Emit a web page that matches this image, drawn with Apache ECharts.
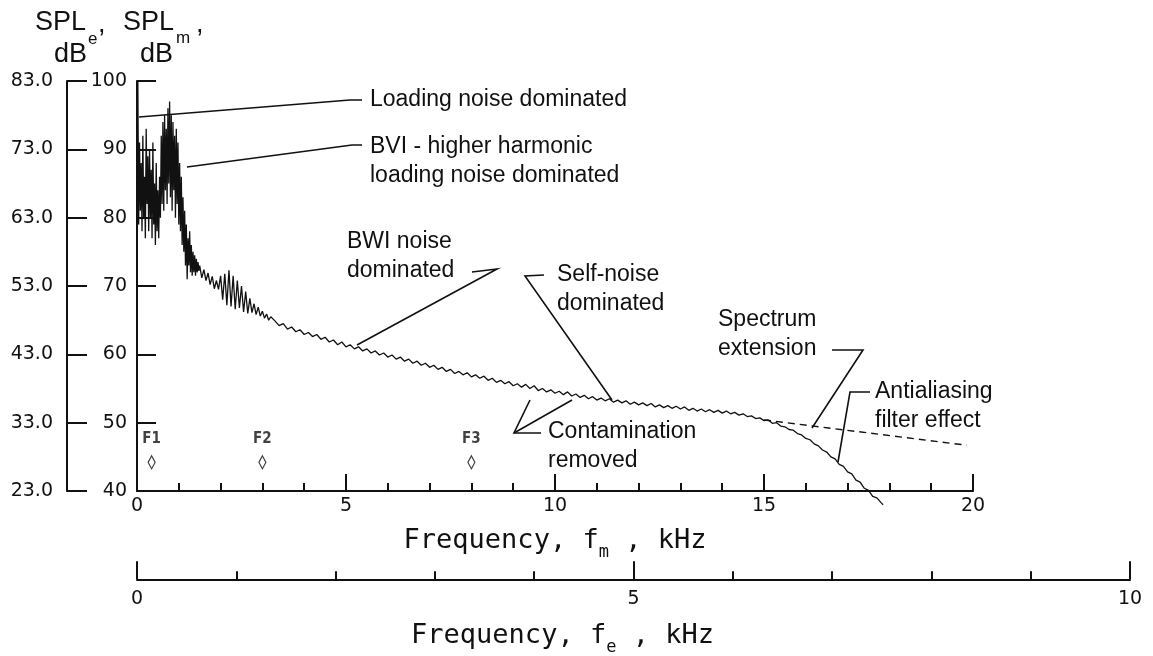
<!DOCTYPE html>
<html>
<head>
<meta charset="utf-8">
<title>SPL spectrum</title>
<script src="https://cdn.jsdelivr.net/npm/echarts@6/dist/echarts.min.js"></script>
<style>
  html, body { margin: 0; padding: 0; background: #fff; }
  #chart { width: 1153px; height: 656px; }
</style>
</head>
<body>
<div id="chart"></div>
<script>
// SPL_m (dB) against model frequency f_m (kHz)
const lowBand = [
  [0, 61], [0.02, 100], [0.04, 79], [0.06, 91], [0.08, 81], [0.1, 88],
  [0.12, 78], [0.14, 92], [0.16, 80], [0.18, 86], [0.2, 77], [0.22, 93],
  [0.24, 82], [0.26, 89], [0.28, 78], [0.3, 90], [0.32, 80], [0.34, 87],
  [0.36, 77], [0.38, 91], [0.4, 79], [0.42, 85], [0.44, 76], [0.46, 88],
  [0.48, 78], [0.5, 84], [0.52, 77], [0.54, 86], [0.56, 80], [0.58, 92],
  [0.6, 82], [0.62, 94], [0.64, 81], [0.66, 95], [0.68, 84], [0.7, 93],
  [0.72, 82], [0.74, 96], [0.76, 85], [0.78, 97], [0.8, 83], [0.82, 95],
  [0.84, 81], [0.86, 94], [0.88, 84], [0.9, 92], [0.92, 80], [0.94, 93],
  [0.96, 82], [0.98, 91], [1.0, 79], [1.02, 88], [1.04, 78], [1.06, 86],
  [1.08, 76], [1.1, 83], [1.12, 75], [1.14, 81], [1.16, 73], [1.18, 79],
  [1.2, 71], [1.22, 77], [1.24, 73], [1.26, 78], [1.28, 72], [1.3, 76],
  [1.32, 71.5], [1.34, 75], [1.36, 72], [1.38, 74.5], [1.4, 71.5], [1.42, 74],
  [1.44, 72], [1.46, 73.5], [1.48, 72.2]
];
const midBand = [
  [1.5, 73.0], [1.55, 71.2], [1.6, 72.4], [1.65, 70.8], [1.7, 71.9], [1.75, 70.2],
  [1.8, 71.4], [1.85, 69.6], [1.9, 70.8], [1.95, 69.5], [2.0, 71.5], [2.05, 68.0],
  [2.1, 71.8], [2.15, 67.2], [2.2, 72.3], [2.25, 67.0], [2.3, 71.5], [2.35, 66.6],
  [2.4, 70.8], [2.45, 66.8], [2.5, 70.0], [2.55, 66.2], [2.6, 69.2], [2.65, 66.0],
  [2.7, 68.2], [2.75, 66.1], [2.8, 67.4], [2.85, 65.8], [2.9, 66.9], [2.95, 65.6],
  [3.0, 66.3], [3.05, 65.3], [3.1, 65.9], [3.15, 65.0], [3.2, 65.5]
];
const highBand = [
  [3.3, 64.9], [3.4, 64.2], [3.5, 64.5], [3.6, 63.7], [3.7, 64.0], [3.8, 63.3],
  [3.9, 63.6], [4.0, 62.9], [4.1, 63.2], [4.2, 62.6], [4.3, 62.9], [4.4, 62.2],
  [4.5, 62.5], [4.6, 61.8], [4.7, 62.1], [4.8, 61.4], [4.9, 61.8], [5.0, 61.1],
  [5.1, 61.4], [5.2, 60.8], [5.3, 61.1], [5.4, 60.5], [5.5, 60.8], [5.6, 60.2],
  [5.7, 60.5], [5.8, 59.9], [5.9, 60.2], [6.0, 59.6], [6.1, 59.9], [6.2, 59.3],
  [6.3, 59.6], [6.4, 59.0], [6.5, 59.3], [6.6, 58.7], [6.7, 59.0], [6.8, 58.4],
  [6.9, 58.7], [7.0, 58.1], [7.1, 58.4], [7.2, 57.8], [7.3, 58.1], [7.4, 57.5],
  [7.5, 57.8], [7.6, 57.2], [7.7, 57.5], [7.8, 57.0], [7.9, 57.3], [8.0, 56.7],
  [8.1, 57.0], [8.2, 56.5], [8.3, 56.8], [8.4, 56.2], [8.5, 56.5], [8.6, 55.9],
  [8.7, 56.2], [8.8, 55.7], [8.9, 56.0], [9.0, 55.4], [9.1, 55.7], [9.2, 55.2],
  [9.3, 55.6], [9.4, 55.0], [9.5, 55.4], [9.6, 54.7], [9.7, 55.0], [9.8, 54.5],
  [9.9, 54.8], [10.0, 54.3], [10.1, 54.6], [10.2, 54.1], [10.3, 54.5], [10.4, 53.9],
  [10.5, 54.2], [10.6, 53.7], [10.7, 54.0], [10.8, 53.5], [10.9, 53.8], [11.0, 53.3],
  [11.1, 53.6], [11.2, 53.2], [11.3, 53.5], [11.4, 53.0], [11.5, 53.3], [11.6, 52.9],
  [11.7, 53.2], [11.8, 52.7], [11.9, 53.0], [12.0, 52.6], [12.1, 52.9], [12.2, 52.5],
  [12.3, 52.8], [12.4, 52.3], [12.5, 52.6], [12.6, 52.2], [12.7, 52.5], [12.8, 52.1],
  [12.9, 52.4], [13.0, 52.0], [13.1, 52.3], [13.2, 51.8], [13.3, 52.1], [13.4, 51.7],
  [13.5, 52.0], [13.6, 51.6], [13.7, 51.9], [13.8, 51.5], [13.9, 51.8], [14.0, 51.4],
  [14.1, 51.7], [14.2, 51.3], [14.3, 51.5], [14.4, 51.1], [14.5, 51.3], [14.6, 50.9],
  [14.7, 51.0], [14.8, 50.6], [14.9, 50.7], [15.0, 50.3], [15.1, 50.4], [15.2, 49.9],
  [15.3, 50.0], [15.4, 49.5], [15.5, 49.4], [15.6, 49.0], [15.7, 48.9], [15.8, 48.4],
  [15.9, 48.2], [16.0, 47.7], [16.1, 47.5], [16.2, 46.9], [16.3, 46.6], [16.4, 46.0],
  [16.5, 45.7], [16.6, 45.0], [16.7, 44.7], [16.8, 43.9], [16.9, 43.6], [17.0, 42.8],
  [17.1, 42.5], [17.2, 41.6], [17.3, 41.3], [17.4, 40.4], [17.5, 40.1], [17.6, 39.2],
  [17.7, 39.0], [17.8, 38.3], [17.85, 38.0]
];
// dashed "spectrum extension"
const extension = [[15.0, 50.4], [19.85, 46.7]];

// reference frequencies F1..F3
const markNames = ['F1', 'F2', 'F3'];
const markFreqs = [0.35, 3, 8];
const markLevel = 44.2;

// axis ranges
const fmRange = [0, 20];
const feRange = [0, 10];
const splmRange = [40, 100];
const spleRange = [23, 83];

const black = '#111';
const tickFont = 'DejaVu Sans';
const noteFont = '23px "Liberation Sans", Arial, sans-serif';

// annotation text + leader lines (pixel layout)
const notes = [
  { text: 'Loading noise dominated', x: 370, y: 100, line: [[139, 117], [350, 100], [362, 100]] },
  { text: 'BVI - higher harmonic\nloading noise dominated', x: 370, y: 147, line: [[187, 167], [352, 145], [362, 145]] },
  { text: 'BWI noise\ndominated', x: 347, y: 242, line: [[472, 272], [497, 269], [357, 345]] },
  { text: 'Self-noise\ndominated', x: 557, y: 275, line: [[544, 275], [525, 276], [612, 400]] },
  { text: 'Contamination\nremoved', x: 548, y: 432, line: [[541, 433], [514, 433], [530, 400]] },
  { text: '', x: 0, y: 0, line: [[514, 433], [572, 400]] },
  { text: 'Spectrum\nextension', x: 718, y: 320, line: [[832, 350], [863, 350], [812, 428]] },
  { text: 'Antialiasing\nfilter effect', x: 875, y: 392, line: [[870, 392], [850, 392], [838, 462]] }
];

const graphics = [];
notes.forEach(n => {
  graphics.push({
    type: 'polyline',
    shape: { points: n.line },
    style: { stroke: black, lineWidth: 1.6, fill: null }
  });
  if (n.text) {
    graphics.push({
      type: 'text', x: n.x, y: n.y - 14.5,
      style: { text: n.text, font: noteFont, fill: black, lineHeight: 29, verticalAlign: 'top' }
    });
  }
});

// y-axis title: SPL_e, SPL_m / dB dB
const titleFont = '27px "Liberation Sans", Arial, sans-serif';
const subFont = '17px "Liberation Sans", Arial, sans-serif';
[
  ['SPL', 35, 23, titleFont], ['e', 88, 39, subFont], [',', 98, 25, titleFont],
  ['SPL', 123, 23, titleFont], ['m', 176, 38, subFont], [',', 196, 25, titleFont],
  ['dB', 54, 55, titleFont], ['dB', 140, 55, titleFont]
].forEach(t => {
  graphics.push({
    type: 'text', x: t[1], y: t[2],
    style: { text: t[0], font: t[3], fill: black, verticalAlign: 'middle' }
  });
});

const axisLine = { lineStyle: { color: black, width: 2 } };
const nameStyle = (pad) => ({
  color: black, fontSize: 27, fontFamily: 'DejaVu Sans Mono', lineHeight: 40,
  padding: pad,
  rich: { s: { fontSize: 17, fontFamily: 'DejaVu Sans Mono', lineHeight: 17, verticalAlign: 'bottom', color: black } }
});

const option = {
  animation: false,
  backgroundColor: '#fff',
  grid: [
    { left: 137, top: 81, width: 836, height: 410 },
    { left: 137, top: 579, width: 993, height: 1 }
  ],
  xAxis: [
    {
      gridIndex: 0, type: 'value', min: fmRange[0], max: fmRange[1], interval: 5,
      axisLine: axisLine,
      axisTick: { inside: true, length: 17, lineStyle: { color: black, width: 2 } },
      minorTick: { show: true, splitNumber: 5, length: 8, lineStyle: { color: black, width: 2 } },
      splitLine: { show: false },
      axisLabel: { color: black, fontSize: 19, fontFamily: tickFont, margin: 6 },
      name: 'Frequency, f{s|m} , kHz',
      nameLocation: 'middle', nameGap: 27,
      nameTextStyle: nameStyle(0)
    },
    {
      gridIndex: 1, type: 'value', min: feRange[0], max: feRange[1], interval: 5,
      axisLine: axisLine,
      axisTick: { inside: true, length: 18, lineStyle: { color: black, width: 2 } },
      minorTick: { show: true, splitNumber: 5, length: 8, lineStyle: { color: black, width: 2 } },
      splitLine: { show: false },
      axisLabel: { color: black, fontSize: 19, fontFamily: tickFont, margin: 10 },
      name: 'Frequency, f{s|e} , kHz',
      nameLocation: 'middle', nameGap: 37,
      nameTextStyle: nameStyle([0, 142, 0, 0])
    }
  ],
  yAxis: [
    {
      gridIndex: 0, type: 'value', position: 'left', min: splmRange[0], max: splmRange[1], interval: 10,
      axisLine: axisLine,
      axisTick: { inside: true, length: 19, lineStyle: { color: black, width: 2 } },
      splitLine: { show: false },
      axisLabel: { color: black, fontSize: 19, fontFamily: tickFont, margin: 10 }
    },
    {
      gridIndex: 0, type: 'value', position: 'left', offset: 70,
      min: spleRange[0], max: spleRange[1], interval: 10,
      axisLine: Object.assign({ show: true }, axisLine),
      axisTick: { inside: true, length: 20, lineStyle: { color: black, width: 2 } },
      splitLine: { show: false },
      axisLabel: { color: black, fontSize: 19, fontFamily: tickFont, margin: 14, formatter: v => v.toFixed(1) }
    },
    { gridIndex: 1, type: 'value', show: false }
  ],
  graphic: graphics,
  series: [
    {
      name: 'spectrum', type: 'line', xAxisIndex: 0, yAxisIndex: 0,
      data: lowBand.concat(midBand, highBand),
      showSymbol: false, clip: false,
      lineStyle: { color: black, width: 1.3 }
    },
    {
      name: 'extension', type: 'line', xAxisIndex: 0, yAxisIndex: 0,
      data: extension, showSymbol: false,
      lineStyle: { color: black, width: 1.4, type: [7, 5] }
    },
    {
      name: 'marks', type: 'scatter', xAxisIndex: 0, yAxisIndex: 0,
      data: markFreqs.map(f => [f, markLevel]),
      symbol: 'diamond', symbolSize: [7, 13],
      itemStyle: { color: '#fff', borderColor: black, borderWidth: 1.3 },
      label: {
        show: true, position: 'top', distance: 8, color: black,
        fontSize: 15, fontFamily: 'DejaVu Sans Condensed', fontWeight: 'bold',
        formatter: p => markNames[p.dataIndex]
      }
    }
  ]
};

const chart = echarts.init(document.getElementById('chart'));
chart.setOption(option);
</script>
</body>
</html>
